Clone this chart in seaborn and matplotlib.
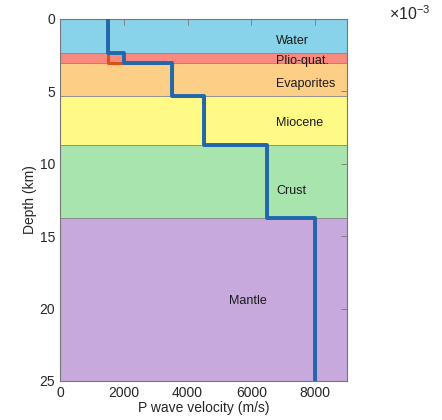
import numpy as np
import pandas as pd
import matplotlib
matplotlib.use("Agg")
import matplotlib.pyplot as plt
import seaborn as sns

# Layer data
layer_names = ["Water", "Plio-quat.", "Evaporites", "Miocene", "Crust", "Mantle"]
layer_tops = [0.0, 2.35, 3.04, 5.3, 8.7, 13.75]
layer_bottoms = [2.35, 3.04, 5.3, 8.7, 13.75, 25.0]
layer_colors = ["#88d3e9", "#f98a80", "#fdcf86", "#fff985", "#a8e4ae", "#c8a9dd"]
velocities = [1500, 2000, 3500, 4500, 6500, 8000]
velocities_alt = [1500, 1500, 3500, 4500, 6500, 8000]

label_x = [6770, 6770, 6770, 6770, 6770, 5300]
label_y = [1.55, 2.9, 4.5, 7.2, 11.85, 19.45]

x_ticks = [0, 2000, 4000, 6000, 8000]
y_ticks = [0, 5, 10, 15, 20, 25]


def step_profile(vels):
    xs, ys = [], []
    for t, b, v in zip(layer_tops, layer_bottoms, vels):
        xs += [v, v]
        ys += [t, b]
    return pd.DataFrame({"v": xs, "d": ys, "i": range(len(xs))})

sns.set_style("white")
plt.rcParams["font.family"] = ["Liberation Sans", "DejaVu Sans"]
plt.rcParams["mathtext.fontset"] = "custom"
plt.rcParams["mathtext.rm"] = "Liberation Sans"

fig = plt.figure(figsize=(4.42, 4.20), dpi=100)
ax = fig.add_axes([60 / 442, 39 / 420, 287 / 442, 362 / 420])

for t, b, c in zip(layer_tops, layer_bottoms, layer_colors):
    ax.axhspan(t, b, facecolor=c, edgecolor="#8a8a8a", linewidth=0.6, zorder=0)

alt = step_profile(velocities_alt)
main = step_profile(velocities)
sns.lineplot(data=alt, x="v", y="d", sort=False, estimator=None, color="#d95319",
             linewidth=2.2, ax=ax, zorder=2)
sns.lineplot(data=main, x="v", y="d", sort=False, estimator=None, color="#1f68ad",
             linewidth=2.8, ax=ax, zorder=3)

for name, lx, ly in zip(layer_names, label_x, label_y):
    ax.text(lx, ly, name, fontsize=9, color="#1a1a1a", va="center", ha="left", zorder=4)

ax.set_xlim(0, 9000)
ax.set_ylim(25, 0)
ax.set_xticks(x_ticks)
ax.set_yticks(y_ticks)
ax.set_xlabel("P wave velocity (m/s)", fontsize=10, color="#262626", labelpad=1)
ax.set_ylabel("Depth (km)", fontsize=10, color="#262626", labelpad=2)
ax.tick_params(axis="both", direction="in", length=4, width=0.6, colors="#777777",
               labelcolor="#262626", labelsize=10, top=True, right=True)
for s in ax.spines.values():
    s.set_color("#777777")
    s.set_linewidth(0.8)

fig.text(389 / 442, 1 - 14 / 420, r"$\times10^{-3}$", fontsize=11.5, color="#262626",
         ha="left", va="center")

fig.savefig("out.png", dpi=100)
